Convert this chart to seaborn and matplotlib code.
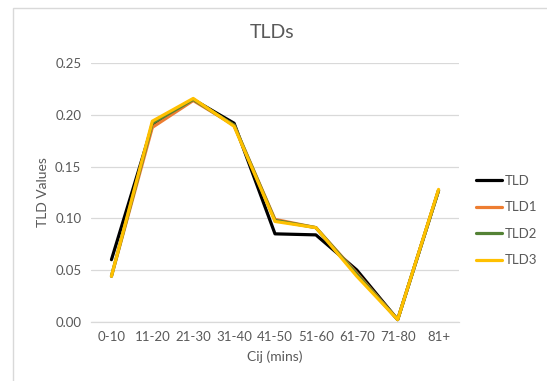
import matplotlib
matplotlib.use("Agg")
import matplotlib.pyplot as plt
import seaborn as sns
import pandas as pd
from matplotlib.patches import Rectangle

categories = ["0-10", "11-20", "21-30", "31-40", "41-50", "51-60", "61-70", "71-80", "81+"]
tld = [0.060, 0.190, 0.215, 0.192, 0.085, 0.084, 0.050, 0.002, 0.127]
tld1 = [0.044, 0.188, 0.214, 0.190, 0.099, 0.091, 0.047, 0.002, 0.127]
tld2 = [0.044, 0.192, 0.215, 0.190, 0.098, 0.091, 0.046, 0.002, 0.127]
tld3 = [0.044, 0.194, 0.216, 0.189, 0.097, 0.091, 0.044, 0.002, 0.128]
series_names = ["TLD", "TLD1", "TLD2", "TLD3"]
yticks = [0.00, 0.05, 0.10, 0.15, 0.20, 0.25]

rows = []
for name, vals in zip(series_names, [tld, tld1, tld2, tld3]):
    for i, (c, v) in enumerate(zip(categories, vals)):
        rows.append({"Cij": c, "pos": i, "value": v, "series": name})
df = pd.DataFrame(rows)

sns.set_theme(style="white")
plt.rcParams["font.family"] = ["Lato", "DejaVu Sans"]

fig = plt.figure(figsize=(5.47, 3.81), dpi=100)
ax = fig.add_axes([91/547, 1 - 321.7/381, (459 - 91)/547, (321.7 - 63.3)/381])

palette = {"TLD": "#000000", "TLD1": "#ED7D31", "TLD2": "#548235", "TLD3": "#FFC000"}
sns.lineplot(data=df, x="pos", y="value", hue="series", hue_order=series_names,
             palette=palette, linewidth=2.3, ax=ax, sort=False)

ax.set_xlim(-0.5, len(categories) - 0.5)
ax.set_ylim(0, 0.25)
ax.set_yticks(yticks)
ax.set_yticklabels([f"{t:.2f}" for t in yticks])
ax.set_xticks(range(len(categories)))
ax.set_xticklabels(categories)
ax.yaxis.grid(True, color="#d9d9d9", linewidth=0.9)
ax.set_axisbelow(True)
for s in ["top", "right", "left"]:
    ax.spines[s].set_visible(False)
ax.spines["bottom"].set_color("#d9d9d9")
ax.spines["bottom"].set_linewidth(0.9)
ax.tick_params(axis="both", length=0, labelsize=9.5, colors="#595959", pad=7)

ax.set_xlabel("Cij (mins)", fontsize=10, color="#595959", labelpad=5)
ax.set_ylabel("TLD Values", fontsize=10, color="#595959", labelpad=4)
fig.text(272/547, 1 - 33/381, "TLDs", ha="center", va="center", fontsize=14, color="#595959")

leg = ax.legend(loc="upper left", bbox_to_anchor=(472/547, 1 - 171/381),
                bbox_transform=fig.transFigure, frameon=False, fontsize=9.5,
                handlelength=2.0, handletextpad=0.2, labelspacing=1.1,
                borderaxespad=0, borderpad=0.3)
for t in leg.get_texts():
    t.set_color("#595959")
for h in leg.get_lines():
    h.set_linewidth(2.3)

fig.patches.append(Rectangle((13/547, -0.1), 1.2, 1 - 8/381 + 0.1, transform=fig.transFigure,
                             fill=False, edgecolor="#d9d9d9", linewidth=1.0))

fig.savefig("out.png", dpi=100)
